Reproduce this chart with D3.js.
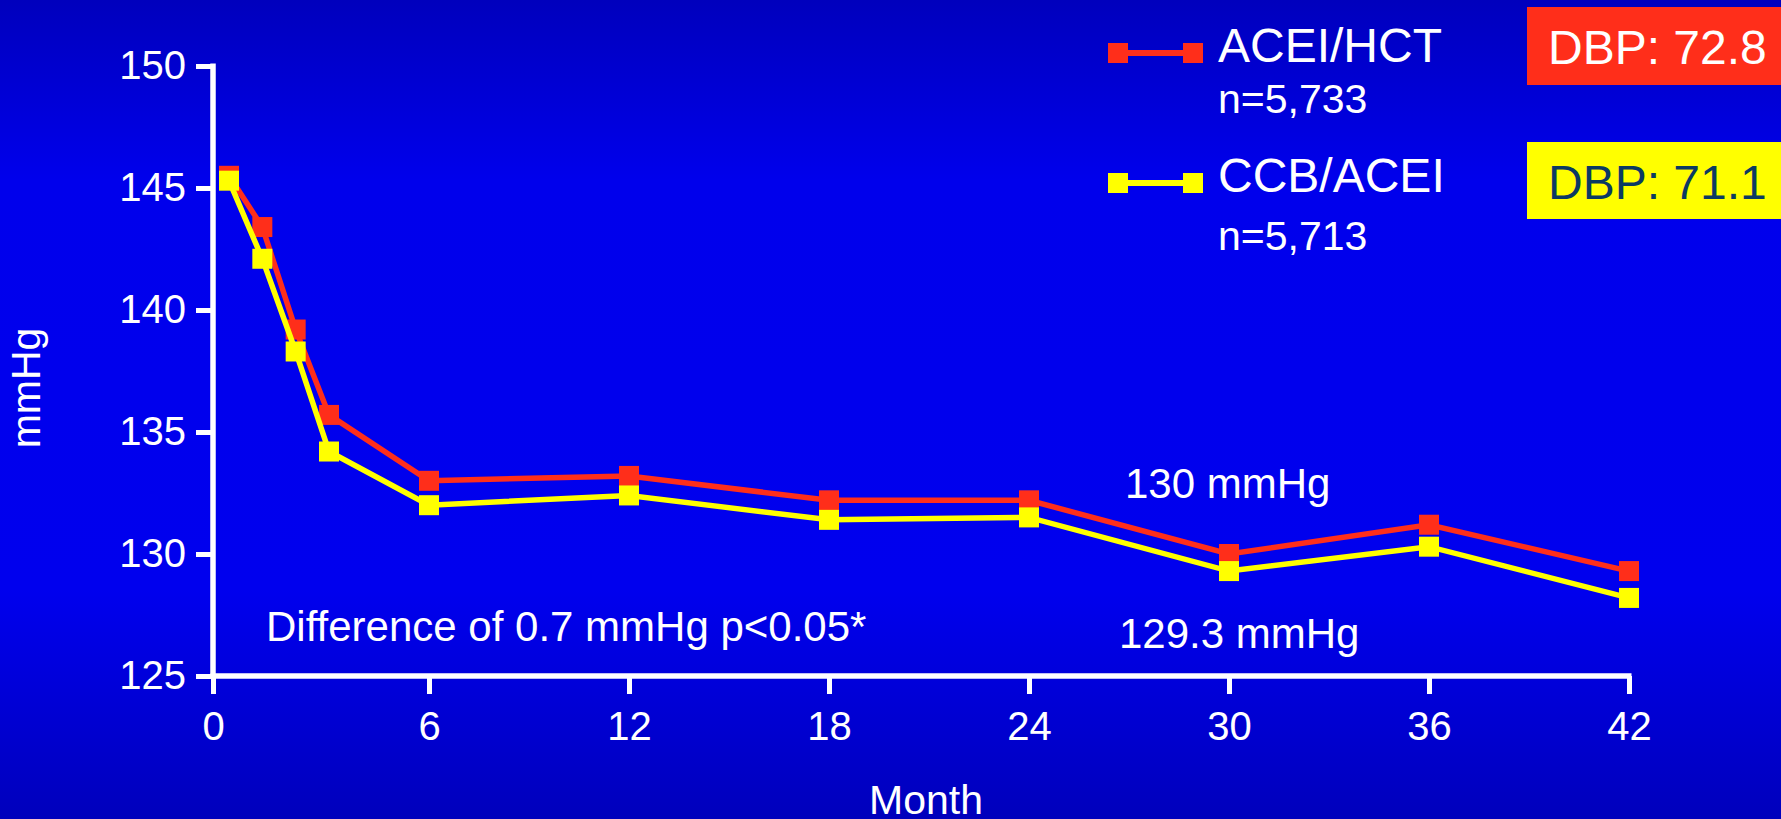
<!DOCTYPE html>
<html>
<head>
<meta charset="utf-8">
<script src="https://cdn.jsdelivr.net/npm/d3@7"></script>
<style>
  html, body { margin: 0; padding: 0; overflow: hidden; background: #0000e6; }
  svg { display: block; font-family: "Liberation Sans", Arial, Helvetica, sans-serif; }
</style>
</head>
<body>
<svg id="chart" width="1781" height="819"></svg>
<script>
// Systolic blood pressure over follow-up, by treatment arm
const months = [0, 1, 2, 3, 6, 12, 18, 24, 30, 36, 42];
const aceiHct = [145.5, 143.4, 139.2, 135.7, 133.0, 133.2, 132.2, 132.2, 130.0, 131.2, 129.3];
const ccbAcei = [145.3, 142.1, 138.3, 134.2, 132.0, 132.4, 131.4, 131.5, 129.3, 130.3, 128.2];

const seriesNames = ["ACEI/HCT", "CCB/ACEI"];
const seriesCounts = ["n=5,733", "n=5,713"];
const seriesColors = ["#ff2e1a", "#ffff00"];
const dbpLabels = ["DBP: 72.8", "DBP: 71.1"];
const dbpTextColors = ["#ffffff", "#0b3a63"];
const month30Labels = ["130 mmHg", "129.3 mmHg"];

const xTickValues = [0, 6, 12, 18, 24, 30, 36, 42];
const yTickValues = [125, 130, 135, 140, 145, 150];
const xTitle = "Month";
const yTitle = "mmHg";
const note = "Difference of 0.7 mmHg p<0.05*";

const W = 1781, H = 819;
const svg = d3.select("#chart");

// Background: vertical blue gradient
const defs = svg.append("defs");
const grad = defs.append("linearGradient")
  .attr("id", "bg").attr("x1", 0).attr("y1", 0).attr("x2", 0).attr("y2", 1);
[[0, "#0000bd"], [0.22, "#0000ec"], [0.72, "#0000ee"], [1, "#0000bc"]]
  .forEach(([o, c]) => grad.append("stop").attr("offset", o).attr("stop-color", c));
svg.append("rect").attr("width", W).attr("height", H).attr("fill", "url(#bg)");

// Scales
const originX = 213;               // where the two axes meet
const x = d3.scaleLinear().domain([0, 42]).range([229, 1629]);
const y = d3.scaleLinear().domain([125, 150]).range([676, 66]);
// Axis scale: the "0" tick sits at the axis origin, the rest follow x
const xAxisScale = d3.scaleLinear().domain([0, 6, 42]).range([originX, x(6), x(42)]);

const axisW = 5;

// Y axis
const gy = svg.append("g")
  .attr("transform", `translate(${originX},0)`)
  .attr("color", "#fff")
  .call(d3.axisLeft(y).tickValues(yTickValues).tickSize(17).tickSizeOuter(0).tickPadding(10));
gy.select(".domain").remove();
gy.selectAll(".tick line").attr("stroke-width", axisW);
gy.selectAll(".tick text").attr("font-size", 40).attr("fill", "#fff");
svg.append("line")
  .attr("x1", originX).attr("x2", originX)
  .attr("y1", y(150) - axisW / 2).attr("y2", y(125) + axisW / 2)
  .attr("stroke", "#fff").attr("stroke-width", axisW + 0.5);

// X axis
const gx = svg.append("g")
  .attr("transform", `translate(0,${y(125)})`)
  .attr("color", "#fff")
  .call(d3.axisBottom(xAxisScale).tickValues(xTickValues).tickSize(18).tickSizeOuter(0).tickPadding(18));
gx.select(".domain").remove();
gx.selectAll(".tick line").attr("stroke-width", axisW);
gx.selectAll(".tick text").attr("font-size", 40).attr("fill", "#fff");
svg.append("line")
  .attr("x1", originX - axisW / 2).attr("x2", x(42) + axisW / 2)
  .attr("y1", y(125)).attr("y2", y(125))
  .attr("stroke", "#fff").attr("stroke-width", axisW + 0.5);

// Axis titles
svg.append("text")
  .attr("x", 926).attr("y", 814)
  .attr("text-anchor", "middle").attr("font-size", 41).attr("fill", "#fff")
  .text(xTitle);
svg.append("text")
  .attr("transform", "translate(40,388) rotate(-90)")
  .attr("text-anchor", "middle").attr("font-size", 41).attr("fill", "#fff")
  .text(yTitle);

// Series lines and square markers
const series = [aceiHct, ccbAcei];
const line = d3.line().x((d, i) => x(months[i])).y(d => y(d));
const mk = 20;
series.forEach((vals, s) => {
  const g = svg.append("g");
  g.append("path")
    .attr("d", line(vals))
    .attr("fill", "none")
    .attr("stroke", seriesColors[s])
    .attr("stroke-width", 5.5);
  g.selectAll("rect")
    .data(vals)
    .join("rect")
    .attr("x", (d, i) => x(months[i]) - mk / 2)
    .attr("y", d => y(d) - mk / 2)
    .attr("width", mk).attr("height", mk)
    .attr("fill", seriesColors[s]);
});

// Annotations
svg.append("text")
  .attr("x", 266).attr("y", 641)
  .attr("font-size", 42).attr("fill", "#fff")
  .text(note);
svg.append("text")
  .attr("x", 1125).attr("y", 498)
  .attr("font-size", 42).attr("fill", "#fff")
  .text(month30Labels[0]);
svg.append("text")
  .attr("x", 1119).attr("y", 648)
  .attr("font-size", 42).attr("fill", "#fff")
  .text(month30Labels[1]);

// Legend
const legendRows = [{ cy: 53, nameY: 62, countY: 113 }, { cy: 183, nameY: 192, countY: 250 }];
legendRows.forEach((r, s) => {
  const g = svg.append("g");
  g.append("line")
    .attr("x1", 1118).attr("x2", 1193)
    .attr("y1", r.cy).attr("y2", r.cy)
    .attr("stroke", seriesColors[s]).attr("stroke-width", 6);
  [1118, 1193].forEach(cx => g.append("rect")
    .attr("x", cx - mk / 2).attr("y", r.cy - mk / 2)
    .attr("width", mk).attr("height", mk)
    .attr("fill", seriesColors[s]));
  g.append("text")
    .attr("x", 1218).attr("y", r.nameY)
    .attr("font-size", 48).attr("fill", "#fff")
    .text(seriesNames[s]);
  g.append("text")
    .attr("x", 1218).attr("y", r.countY)
    .attr("font-size", 41).attr("fill", "#fff")
    .text(seriesCounts[s]);
});

// Diastolic pressure boxes
const dbpBoxes = [{ y0: 7, y1: 85, base: 64 }, { y0: 142, y1: 219, base: 199 }];
dbpBoxes.forEach((b, s) => {
  svg.append("rect")
    .attr("x", 1527).attr("y", b.y0)
    .attr("width", W - 1527).attr("height", b.y1 - b.y0)
    .attr("fill", seriesColors[s]);
  svg.append("text")
    .attr("x", 1548).attr("y", b.base)
    .attr("font-size", 48).attr("fill", dbpTextColors[s])
    .text(dbpLabels[s]);
});
</script>
</body>
</html>
